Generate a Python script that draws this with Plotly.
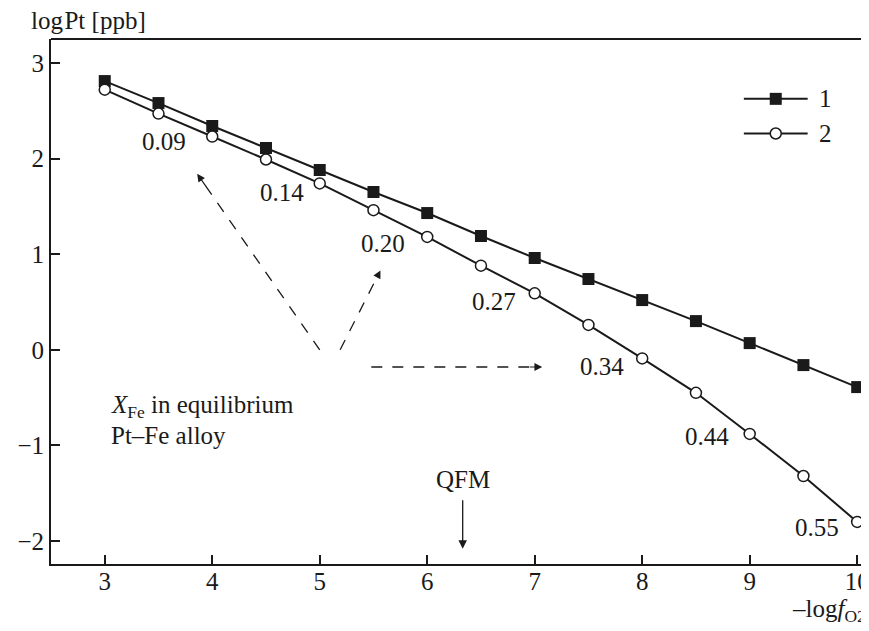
import plotly.graph_objects as go

# ---- data ----
log_fo2 = [3, 3.5, 4, 4.5, 5, 5.5, 6, 6.5, 7, 7.5, 8, 8.5, 9, 9.5, 10]
series1 = [2.81, 2.58, 2.34, 2.11, 1.88, 1.65, 1.43, 1.19, 0.96, 0.74, 0.52, 0.30, 0.07, -0.16, -0.39]
series2 = [2.72, 2.47, 2.23, 1.99, 1.74, 1.46, 1.18, 0.88, 0.59, 0.26, -0.09, -0.45, -0.88, -1.32, -1.80]
series_names = ["1", "2"]

xfe_labels = ["0.09", "0.14", "0.20", "0.27", "0.34", "0.44", "0.55"]
xfe_label_x = [3.55, 4.65, 5.59, 6.62, 7.63, 8.60, 9.63]
xfe_label_y = [2.18, 1.64, 1.11, 0.505, -0.175, -0.906, -1.86]

x_ticks = [3, 4, 5, 6, 7, 8, 9, 10]
y_ticks = [-2, -1, 0, 1, 2, 3]
qfm_x = 6.33

FONT = "Liberation Serif"
FS = 25
INK = "#1a1a1a"

fig = go.Figure()
fig.add_trace(go.Scatter(
    x=log_fo2, y=series1, mode="lines+markers", name=series_names[0],
    line=dict(color=INK, width=2),
    marker=dict(symbol="square", size=12, color=INK, line=dict(width=0)),
    showlegend=False))
fig.add_trace(go.Scatter(
    x=log_fo2, y=series2, mode="lines+markers", name=series_names[1],
    line=dict(color=INK, width=2),
    marker=dict(symbol="circle", size=11, color="white", line=dict(width=1.5, color=INK)),
    showlegend=False))

ann = []
for t, lx, ly in zip(xfe_labels, xfe_label_x, xfe_label_y):
    ann.append(dict(x=lx, y=ly, text=t, showarrow=False, xanchor="center", yanchor="middle",
                    font=dict(family=FONT, size=FS, color=INK)))

shapes = []
# dashed arrows
arrows = [((5.0, 0.0), (3.86, 1.84)), ((5.19, 0.0), (5.565, 0.83)), ((5.48, -0.18), (7.07, -0.18))]
for (x0, y0), (x1, y1) in arrows:
    shapes.append(dict(type="line", xref="x", yref="y", x0=x0, y0=y0,
                       x1=x0 + 0.93 * (x1 - x0), y1=y0 + 0.93 * (y1 - y0),
                       line=dict(color=INK, width=1.3, dash="11px,10px")))
    ann.append(dict(x=x1, y=y1, ax=x1 - 0.08 * (x1 - x0), ay=y1 - 0.08 * (y1 - y0),
                    axref="x", ayref="y", text="", showarrow=True, arrowhead=2,
                    arrowsize=1.3, arrowwidth=1.2, arrowcolor=INK))

# QFM arrow
ann.append(dict(x=qfm_x, y=-1.36, text="QFM", showarrow=False, xanchor="center", yanchor="middle",
                font=dict(family=FONT, size=FS, color=INK)))
ann.append(dict(x=qfm_x, y=-2.08, ax=qfm_x, ay=-1.557, axref="x", ayref="y", text="",
                showarrow=True, arrowhead=2, arrowsize=1.3, arrowwidth=1.3, arrowcolor=INK))

# text block
ann.append(dict(x=3.037, y=-0.59, text="<i>X</i><sub>Fe</sub> in equilibrium", showarrow=False,
                xanchor="left", yanchor="middle", font=dict(family=FONT, size=FS, color=INK)))
ann.append(dict(x=3.037, y=-0.895, text="Pt–Fe alloy", showarrow=False,
                xanchor="left", yanchor="middle", font=dict(family=FONT, size=FS, color=INK)))

# axis titles
ann.append(dict(xref="paper", yref="paper", x=-0.027, y=1.036, text="log<span style='font-size:6px'> </span>Pt [ppb]",
                showarrow=False, xanchor="left", yanchor="middle", font=dict(family=FONT, size=FS, color=INK)))
ann.append(dict(xref="paper", yref="paper", x=0.903, y=-0.088, text="–log<i>f</i><sub>O2</sub>",
                showarrow=False, xanchor="left", yanchor="middle", font=dict(family=FONT, size=FS, color=INK)))

# manual legend
leg_y = [0.886, 0.820]
for i, ly in enumerate(leg_y):
    shapes.append(dict(type="line", xref="paper", yref="paper", x0=0.847, x1=0.925, y0=ly, y1=ly,
                       line=dict(color=INK, width=2)))
    if i == 0:
        shapes.append(dict(type="rect", xref="paper", yref="paper", xsizemode="pixel", ysizemode="pixel",
                           xanchor=0.886, yanchor=ly, x0=-6, x1=6, y0=-6, y1=6,
                           fillcolor=INK, line=dict(width=0)))
    else:
        shapes.append(dict(type="circle", xref="paper", yref="paper", xsizemode="pixel", ysizemode="pixel",
                           xanchor=0.886, yanchor=ly, x0=-5.5, x1=5.5, y0=-5.5, y1=5.5,
                           fillcolor="white", line=dict(width=1.5, color=INK)))
    ann.append(dict(xref="paper", yref="paper", x=0.936, y=ly, text=series_names[i], showarrow=False,
                    xanchor="left", yanchor="middle", font=dict(family=FONT, size=FS, color=INK)))

# page body has an 8px default margin: compensate so the plot sits where the reference has it
fig.update_layout(
    width=861, height=623,
    margin=dict(l=43, r=0, t=31, b=67),
    paper_bgcolor="white", plot_bgcolor="white",
    font=dict(family=FONT, size=FS, color=INK),
    annotations=ann, shapes=shapes,
    xaxis=dict(range=[2.5, 10.11], tickvals=x_ticks, ticks="inside", ticklen=9, tickwidth=1.5,
               tickcolor=INK, showline=True, linecolor=INK, linewidth=2, mirror=False,
               ticklabelstandoff=-6, ticklabeloverflow="allow",
               showgrid=False, zeroline=False, tickfont=dict(family=FONT, size=FS, color=INK)),
    yaxis=dict(range=[-2.24, 3.25], tickvals=y_ticks, ticks="inside", ticklen=9, tickwidth=1.5,
               tickcolor=INK, showline=True, linecolor=INK, linewidth=2,
               showgrid=False, zeroline=False, tickfont=dict(family=FONT, size=FS, color=INK)),
)
# top spine
fig.add_shape(type="line", xref="paper", yref="paper", x0=0, x1=1, y0=1, y1=1,
              line=dict(color=INK, width=2))

fig.write_html("out.html")
